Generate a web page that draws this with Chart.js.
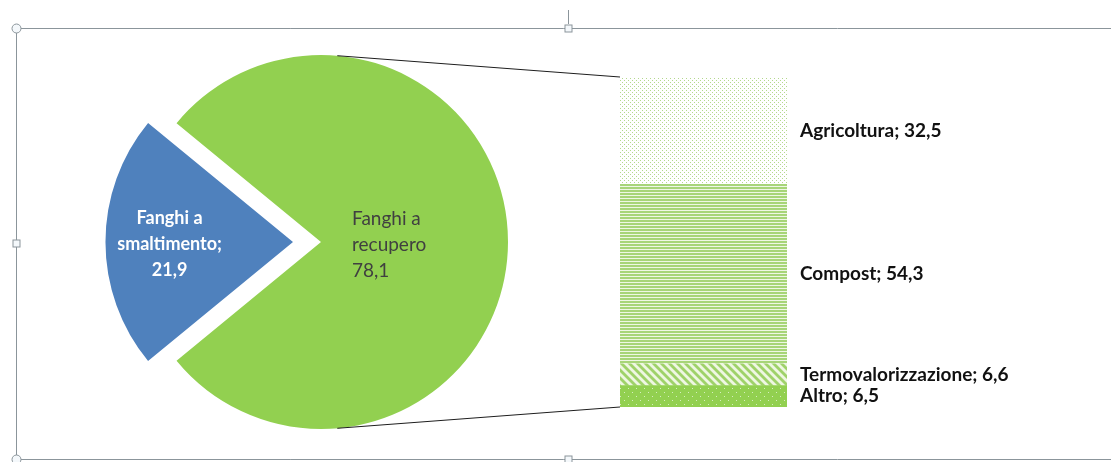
<!DOCTYPE html>
<html>
<head>
<meta charset="utf-8">
<script src="https://cdn.jsdelivr.net/npm/chart.js@4.4.1/dist/chart.umd.min.js"></script>
<style>
  body { margin: 0; background: #fff; }
  #wrap { position: relative; width: 1111px; height: 462px; }
  #wrap canvas { position: absolute; left: 0; top: 0; }
</style>
</head>
<body>
<div id="wrap">
  <canvas id="pieChart" width="1111" height="462"></canvas>
  <canvas id="barChart" width="1111" height="462"></canvas>
</div>
<script>
// destinazione dei fanghi (%)
const pieLabels = [['Fanghi a', 'smaltimento;', '21,9'], ['Fanghi a', 'recupero', '78,1']];
const pieValues = [21.9, 78.1];
const pieColors = ['#4F81BD', '#92D050'];

// dettaglio dei fanghi a recupero (%), dal basso verso l'alto
const barLabels = ['Altro', 'Termovalorizzazione', 'Compost', 'Agricoltura'];
const barValues = [6.5, 6.6, 54.3, 32.5];

const FONT = 'Lato, "Open Sans", sans-serif';

function makePattern(w, h, bg, fg, paint) {
  let c = document.createElement('canvas');
  c.width = w;
  c.height = h;
  let g = c.getContext('2d');
  g.fillStyle = bg;
  g.fillRect(0, 0, w, h);
  g.fillStyle = fg;
  paint(g);
  return g.createPattern(c, 'repeat');
}

const ctxBar = document.getElementById('barChart').getContext('2d');

// puntinato chiaro, righe orizzontali, diagonali larghe, verde con punti
const patAgri = makePattern(4, 4, '#ffffff', '#b3d98c', g => {
  g.fillRect(0, 0, 1, 1);
  g.fillRect(2, 2, 1, 1);
});
const patCompost = makePattern(1, 3, '#eef7e4', '#a7d578', g => {
  g.fillRect(0, 1, 1, 2);
});
const patTermo = makePattern(8, 8, '#eef7e2', '#9fd26a', g => {
  for (let k = -8; k <= 8; k += 8) {
    g.beginPath();
    g.moveTo(k, 0);
    g.lineTo(k + 4, 0);
    g.lineTo(k + 12, 8);
    g.lineTo(k + 8, 8);
    g.closePath();
    g.fill();
  }
});
const patAltro = makePattern(8, 8, '#92D050', '#d6eebf', g => {
  g.fillRect(0, 0, 1, 1);
  g.fillRect(4, 4, 1, 1);
});
const barFills = [patAltro, patTermo, patCompost, patAgri];

const pieTotal = pieValues.reduce((a, b) => a + b, 0);
const blueSweep = pieValues[0] / pieTotal * 360;
const blueShift = 28;

const pieText = {
  id: 'pieText',
  afterDatasetsDraw(chart) {
    const c = chart.ctx;
    const arcs = chart.getDatasetMeta(0).data;
    const r = arcs[0].outerRadius;
    const cx = arcs[0].x, cy = arcs[0].y;
    const lh = 26;
    c.save();
    c.textBaseline = 'middle';

    // etichetta spicchio blu
    c.fillStyle = '#ffffff';
    c.font = 'bold 18px ' + FONT;
    c.textAlign = 'center';
    let bx = cx - blueShift - 0.66 * r;
    pieLabels[0].forEach((t, i) => c.fillText(t, bx, cy - 24 + i * lh));

    // etichetta spicchio verde
    c.fillStyle = '#404040';
    c.font = '19px ' + FONT;
    c.textAlign = 'left';
    let gx = cx + 31;
    pieLabels[1].forEach((t, i) => c.fillText(t, gx, cy - 23 + i * lh));
    c.restore();
  }
};

const pieChart = new Chart(document.getElementById('pieChart'), {
  type: 'pie',
  data: {
    labels: pieLabels.map(l => l.join(' ')),
    datasets: [{
      data: pieValues,
      backgroundColor: pieColors,
      borderWidth: 0,
      // l'elemento arco sposta di offset/4
      offset: [blueShift * 4, 0],
      hoverOffset: 0
    }]
  },
  options: {
    responsive: false,
    animation: false,
    rotation: 270 - blueSweep / 2,
    radius: 187,
    layout: { padding: { left: 100, right: 569, top: 42, bottom: 20 } },
    plugins: { legend: { display: false }, tooltip: { enabled: false } },
    events: []
  },
  plugins: [pieText]
});

// cornice di selezione, linee di collegamento ed etichette della barra
const barExtras = {
  id: 'barExtras',
  afterDraw(chart) {
    const c = chart.ctx;
    c.save();

    // collegamenti torta -> barra
    const arc = pieChart.getDatasetMeta(0).data[1];
    const r = arc.outerRadius;
    const a = 85 * Math.PI / 180;
    const px = arc.x + r * Math.cos(a);
    const top = chart.getDatasetMeta(barValues.length - 1).data[0];
    const bottom = chart.getDatasetMeta(0).data[0];
    const left = top.x - top.width / 2;
    c.strokeStyle = '#1e1e1e';
    c.lineWidth = 1;
    c.beginPath();
    c.moveTo(px, arc.y - r * Math.sin(a));
    c.lineTo(left, top.y);
    c.moveTo(px, arc.y + r * Math.sin(a));
    c.lineTo(left, bottom.base);
    c.stroke();

    // etichette
    c.fillStyle = '#111111';
    c.font = 'bold 19px ' + FONT;
    c.textAlign = 'left';
    c.textBaseline = 'middle';
    barValues.forEach((v, i) => {
      const el = chart.getDatasetMeta(i).data[0];
      const txt = barLabels[i] + '; ' + v.toFixed(1).replace('.', ',');
      c.fillText(txt, el.x + el.width / 2 + 13, (el.y + el.base) / 2);
    });

    // cornice
    c.strokeStyle = '#8b959b';
    c.beginPath();
    c.moveTo(1111, 28.5);
    c.lineTo(16.5, 28.5);
    c.lineTo(16.5, 459.5);
    c.lineTo(1111, 459.5);
    c.moveTo(568.5, 10);
    c.lineTo(568.5, 24);
    c.stroke();
    c.fillStyle = '#f4f8fb';
    [[16.5, 28.5], [16.5, 459.5]].forEach(p => {
      c.beginPath();
      c.arc(p[0], p[1], 4.5, 0, Math.PI * 2);
      c.fill();
      c.stroke();
    });
    [[568.5, 28.5], [568.5, 459.5], [16.5, 243.5]].forEach(p => {
      c.fillRect(p[0] - 3.5, p[1] - 3.5, 7, 7);
      c.strokeRect(p[0] - 3.5, p[1] - 3.5, 7, 7);
    });
    c.restore();
  }
};

new Chart(ctxBar, {
  type: 'bar',
  data: {
    labels: ['Fanghi a recupero'],
    datasets: barValues.map((v, i) => ({
      label: barLabels[i],
      data: [v],
      backgroundColor: barFills[i],
      borderWidth: 0,
      barPercentage: 1,
      categoryPercentage: 1
    }))
  },
  options: {
    responsive: false,
    animation: false,
    layout: { padding: { left: 620, right: 324, top: 77, bottom: 55 } },
    scales: {
      x: { stacked: true, display: false },
      y: { stacked: true, display: false, min: 0, max: 99.9 }
    },
    plugins: { legend: { display: false }, tooltip: { enabled: false } },
    events: []
  },
  plugins: [barExtras]
});
</script>
</body>
</html>
